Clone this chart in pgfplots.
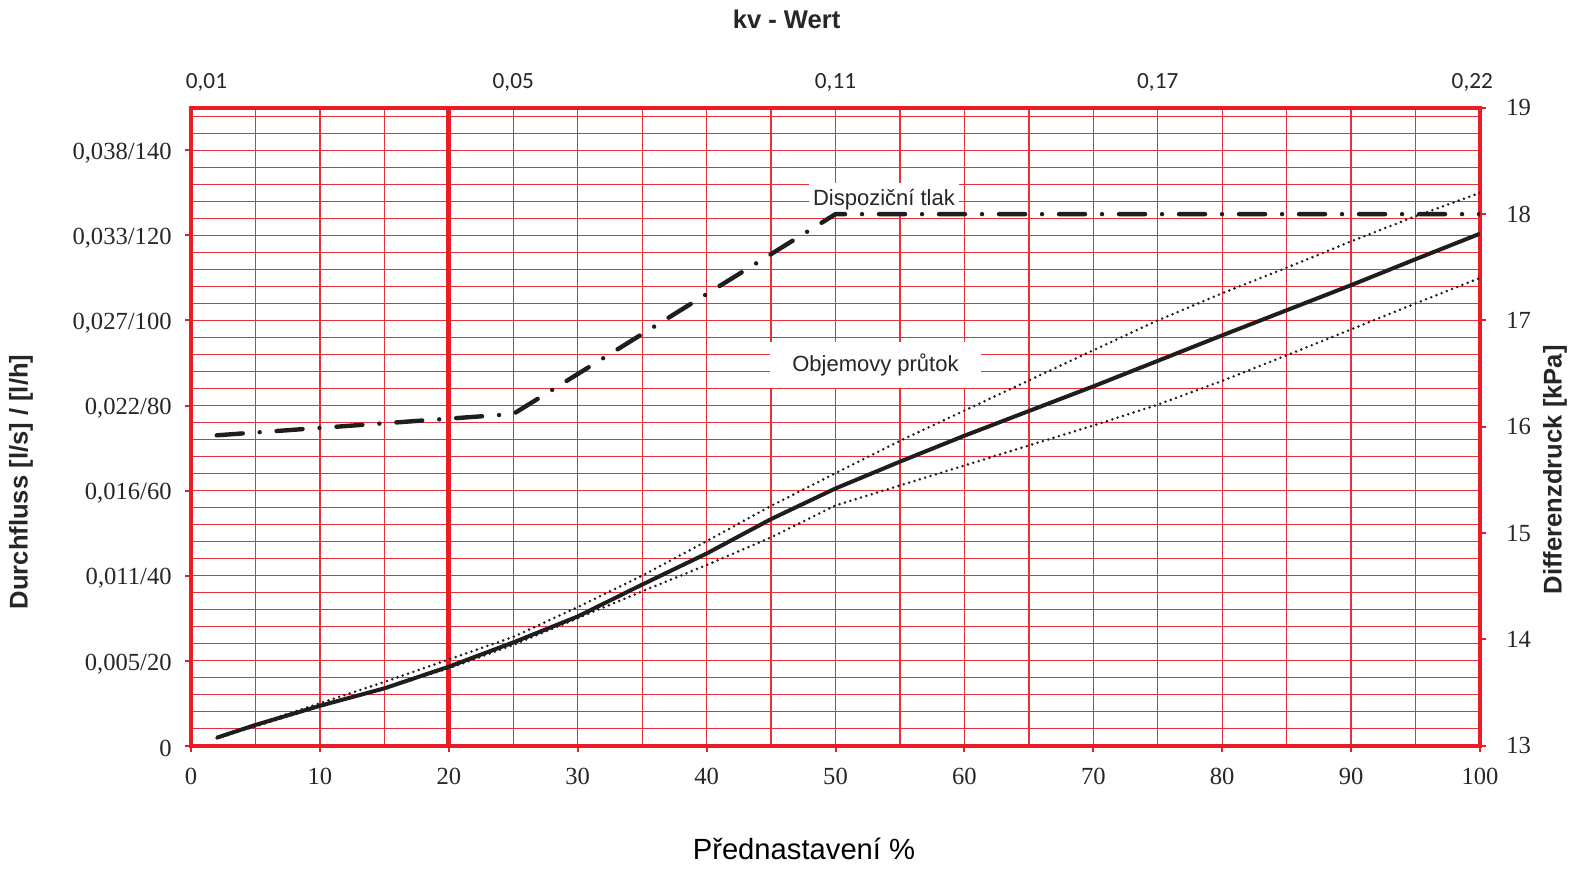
\documentclass[border=0pt]{standalone}
\usepackage{fontspec}
\setmainfont{Liberation Serif}
\newfontfamily\lsans{Liberation Sans}
\newfontfamily\calib{Carlito}
\usepackage{pgfplots}
\pgfplotsset{compat=1.18}
\definecolor{axred}{RGB}{237,28,36}
\definecolor{gridred}{RGB}{232,48,58}
\definecolor{curve}{RGB}{30,30,30}
\pgfplotsset{
  base/.style={
    width=644.5pt, height=319pt, scale only axis,
    xmin=0, xmax=100,
    tick style={axred, line width=1pt},
    tick align=outside,
    major tick length=3pt,
    minor tick length=0pt,
    tick label style={font=\fontsize{12.3}{14}\selectfont, text=black!85, inner sep=0pt},
  }
}
\begin{document}
\begin{tikzpicture}
\begin{axis}[base, name=main,
  ymin=0, ymax=150,
  axis line style={axred, line width=1.8pt},
  tick pos=left,
  xtick={0,10,...,100},
  xticklabels={0,10,20,30,40,50,60,70,80,90,100},
  minor xtick={5,15,...,95},
  ytick={0,20,...,140},
  yticklabels={0,{0,005/20},{0,011/40},{0,016/60},{0,022/80},{0,027/100},{0,033/120},{0,038/140}},
  minor ytick={4,8,...,148},
  grid=both,
  major grid style={gridred, line width=0.65pt},
  minor grid style={gridred, line width=0.65pt},
  xticklabel style={anchor=base, yshift=-16.4pt},
  yticklabel style={anchor=east, xshift=-6.5pt, yshift=-1.5pt},
]
\draw[axred, line width=2.6pt] (axis cs:20,0) -- (axis cs:20,150);
\node[fill=white, inner xsep=2pt, inner ysep=3pt, text=black!85,
  font=\lsans\fontsize{11}{13}\selectfont] at (axis cs:53.76,128.5) {Dispoziční tlak};
\node[fill=white, inner xsep=11pt, inner ysep=6pt, text=black!85,
  font=\lsans\fontsize{11}{13}\selectfont] at (axis cs:53.1,89.5) {Objemovy průtok};

% Durchfluss (solid)
\addplot[curve, line width=2pt] coordinates {
  (2,1.9) (5,4.9) (10,9.4) (15,13.5) (20,18.6) (25,24.3) (30,30.4) (35,37.9)
  (40,45.2) (45,53.3) (50,60.5) (55,66.8) (60,72.9) (65,78.7) (70,84.5)
  (75,90.5) (80,96.5) (85,102.4) (90,108.3) (95,114.4) (100,120.4)
};
% upper tolerance
\addplot[curve, line width=1.4pt, line cap=round, dash pattern=on 0pt off 2.8pt] coordinates {
  (2,2.0) (5,5.0) (10,10.0) (15,15.0) (20,20.3) (25,25.6) (30,32.6) (35,40.0)
  (40,48.1) (45,56.4) (50,64.1) (55,71.7) (60,78.8) (65,85.9) (70,93.0)
  (75,100.0) (80,106.4) (85,112.4) (90,118.6) (95,124.5) (100,130.0)
};
% lower tolerance
\addplot[curve, line width=1.4pt, line cap=round, dash pattern=on 0pt off 2.8pt] coordinates {
  (2,1.8) (10,9.2) (20,18.2) (25,23.7) (30,30.0) (35,36.3) (40,42.5) (45,49.0)
  (50,56.5) (55,61.2) (60,65.9) (65,70.6) (70,75.3) (75,80.2) (80,85.8)
  (85,91.8) (90,97.9) (95,104.0) (100,110.0)
};
\end{axis}

\begin{axis}[base, at={(main.south west)}, anchor=south west,
  ymin=13, ymax=19,
  axis line style={draw=none},
  tick pos=right,
  xtick={1.2,25,50,75,99.4},
  xticklabels={{0,01},{0,05},{0,11},{0,17},{0,22}},
  x tick style={draw=none},
  ytick={13,14,...,19},
  yticklabels={13,14,15,16,17,18,19},
  xticklabel style={font=\calib\fontsize{11.6}{13}\selectfont, anchor=base, yshift=6.6pt},
  yticklabel style={anchor=west, xshift=10pt},
]
% Dispozicni tlak (kPa)
\addplot[curve, line width=2.2pt, line cap=round,
  dash pattern=on 13pt off 8.5pt on 0pt off 8.5pt] coordinates {
  (2,15.92) (25,16.12) (50,18.0) (100,18.0)
};
\end{axis}

\node[font=\lsans\bfseries\fontsize{12.8}{15}\selectfont, text=black!85]
  at ([shift={(297.8pt,363.3pt)}]main.south west) {kv - Wert};
\node[rotate=90, font=\lsans\bfseries\fontsize{12.8}{15}\selectfont, text=black!85]
  at ([shift={(-85pt,131.9pt)}]main.south west) {Durchfluss [l/s] / [l/h]};
\node[rotate=90, font=\lsans\bfseries\fontsize{12.8}{15}\selectfont, text=black!85]
  at ([shift={(682pt,138pt)}]main.south west) {Differenzdruck [kPa]};
\node[font=\lsans\fontsize{14.6}{17}\selectfont, text=black]
  at ([shift={(306.5pt,-51.7pt)}]main.south west) {Přednastavení \%};

\pgfresetboundingbox
\useasboundingbox ([shift={(-95.5pt,-62.2pt)}]main.south west)
  rectangle ([shift={(692pt,372.9pt)}]main.south west);
\end{tikzpicture}
\end{document}
